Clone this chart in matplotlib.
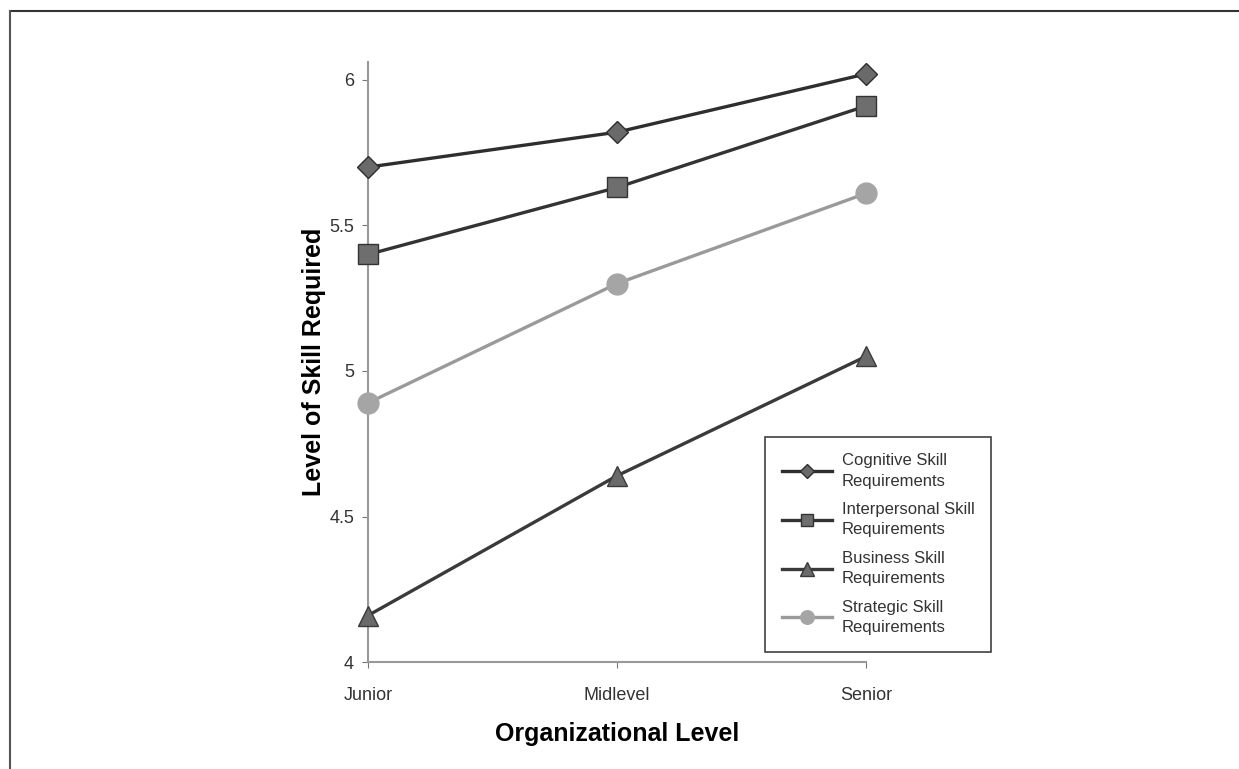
import matplotlib.pyplot as plt
from matplotlib.lines import Line2D

plt.rcParams['font.family'] = ['Liberation Sans', 'DejaVu Sans']

levels = ["Junior", "Midlevel", "Senior"]
cognitive = [5.70, 5.82, 6.02]
interpersonal = [5.40, 5.63, 5.91]
business = [4.16, 4.64, 5.05]
strategic = [4.89, 5.30, 5.61]

series_names = ["Cognitive Skill\nRequirements", "Interpersonal Skill\nRequirements",
                "Business Skill\nRequirements", "Strategic Skill\nRequirements"]
yticks = [4, 4.5, 5, 5.5, 6]
ytick_labels = ["4", "4.5", "5", "5.5", "6"]

fig = plt.figure(figsize=(12.39, 7.69), dpi=100)
ax = fig.add_axes([0.297, 0.139, 0.402, 0.78])

x = range(len(levels))
styles = [
    dict(marker='D', ms=11, color='#2e2e2e', mfc='#6a6a6a', mec='#2e2e2e', lw=2.4),
    dict(marker='s', ms=14, color='#333333', mfc='#6e6e6e', mec='#333333', lw=2.4),
    dict(marker='^', ms=15, color='#3a3a3a', mfc='#6a6a6a', mec='#3a3a3a', lw=2.4),
    dict(marker='o', ms=15, color='#9a9a9a', mfc='#a5a5a5', mec='#a5a5a5', lw=2.4),
]
for data, name, st in zip([cognitive, interpersonal, business, strategic], series_names, styles):
    ax.plot(x, data, label=name, clip_on=False, zorder=3, **st)

ax.set_xlim(0, 2)
ax.set_ylim(4, 6.06)
ax.set_yticks(yticks)
ax.set_yticklabels(ytick_labels)
ax.set_xticks(list(x))
ax.set_xticklabels(levels)

for s in ['top', 'right']:
    ax.spines[s].set_visible(False)
for s in ['left', 'bottom']:
    ax.spines[s].set_color('#999999')
    ax.spines[s].set_linewidth(1.5)
ax.tick_params(axis='y', length=4, color='#777777', labelsize=13, labelcolor='#333333', pad=6)
ax.tick_params(axis='x', length=4, color='#777777', labelsize=13, labelcolor='#333333', pad=14)

ax.set_xlabel("Organizational Level", fontsize=18, fontweight='bold', labelpad=13)
ax.set_ylabel("Level of Skill Required", fontsize=18, fontweight='bold', labelpad=2)

handles, labels = ax.get_legend_handles_labels()
leg = fig.legend(handles, labels, loc='upper left', bbox_to_anchor=(0.611, 0.443),
                 fontsize=12, frameon=True, fancybox=False, handlelength=3.0,
                 labelspacing=0.8, borderpad=1.0, handletextpad=0.6, markerscale=0.65)
leg.get_frame().set_edgecolor('#111111')
leg.get_frame().set_linewidth(1.2)
for t in leg.get_texts():
    t.set_color('#333333')
    t.set_linespacing(1.45)

# outer frame of the scanned figure
fig.add_artist(Line2D([0.008, 1.0], [0.986, 0.986], color='#333333', lw=1.5))
fig.add_artist(Line2D([0.008, 0.008], [0.0, 0.986], color='#555555', lw=1.5))

fig.savefig("out.png", dpi=100)
